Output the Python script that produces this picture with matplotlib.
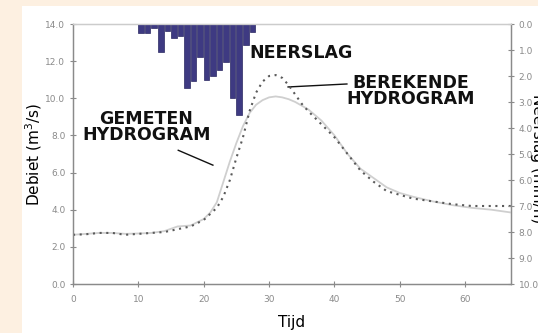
import matplotlib.pyplot as plt
import matplotlib.patches as mpatches
import numpy as np

# neerslag (mm/h), one bar per time step
rain_t = [10, 11, 12, 13, 14, 15, 16, 17, 18, 19, 20, 21, 22, 23, 24, 25, 26, 27]
rain_mm = [0.35, 0.35, 0.15, 1.08, 0.27, 0.54, 0.46, 2.46, 2.2, 1.27,
           2.15, 2.0, 1.77, 1.46, 2.85, 3.5, 0.8, 0.31]

# gemeten hydrogram
meas_t = [0, 2, 4, 6, 8, 10, 12, 14, 16, 18, 20, 21, 22, 23, 24, 25, 26, 27, 28, 29,
          30, 31, 32, 33, 34, 36, 38, 40, 42, 44, 46, 48, 50, 52, 55, 58, 61, 64, 67]
meas_q = [2.65, 2.7, 2.75, 2.75, 2.7, 2.72, 2.75, 2.85, 3.1, 3.15, 3.5, 3.85, 4.4, 5.5,
          6.6, 7.6, 8.5, 9.2, 9.65, 9.9, 10.05, 10.1, 10.05, 9.95, 9.8, 9.4, 8.8, 8.0,
          7.0, 6.2, 5.7, 5.2, 4.9, 4.7, 4.45, 4.25, 4.1, 4.0, 3.85]

# berekende hydrogram
calc_t = [0, 2, 4, 6, 8, 10, 12, 14, 16, 18, 20, 22, 23, 24, 25, 26, 27, 28, 29, 30,
          31, 32, 33, 34, 35, 36, 38, 40, 42, 44, 46, 48, 50, 52, 55, 58, 61, 64, 67]
calc_q = [2.65, 2.68, 2.75, 2.75, 2.65, 2.7, 2.75, 2.8, 2.95, 3.1, 3.45, 4.1, 4.7, 5.6,
          6.8, 7.9, 9.3, 10.3, 10.9, 11.2, 11.25, 11.1, 10.7, 10.2, 9.7, 9.3, 8.6, 7.9,
          7.0, 6.1, 5.5, 5.0, 4.8, 4.6, 4.45, 4.3, 4.2, 4.2, 4.2]

fig = plt.figure(figsize=(5.38, 3.33), dpi=100, facecolor='#fdf0e1')
fig.patches.append(mpatches.Rectangle((22 / 538, 0), 1, 1 - 6 / 333,
                                      transform=fig.transFigure, facecolor='white',
                                      edgecolor='none', zorder=-5))

ax = fig.add_axes([73 / 538, 49 / 333, 438 / 538, 260 / 333])
ax.set_facecolor('white')
ax.plot(meas_t, meas_q, color='#cfcfcf', lw=1.3, zorder=3)
ax.plot(calc_t, calc_q, color='#5a5a5a', lw=1.5, ls=(0, (1, 2.2)), zorder=4)
ax.set_xlim(0, 67)
ax.set_ylim(0, 14)
ax.set_xticks(np.arange(0, 61, 10))
ax.set_yticks(np.arange(0, 14.1, 2))
ax.set_yticklabels(['%.1f' % v for v in np.arange(0, 14.1, 2)])

ax2 = ax.twinx()
ax2.bar(rain_t, rain_mm, width=0.85, align='edge', color='#3e3a82',
        edgecolor='#2b2862', linewidth=0.5, zorder=2)
ax2.set_ylim(10, 0)
ax2.set_yticks(np.arange(0, 10.1, 1))
ax2.set_yticklabels(['%.1f' % v for v in np.arange(0, 10.1, 1)])

for a in (ax, ax2):
    for s in a.spines.values():
        s.set_color('#8a8a8a')
        s.set_linewidth(0.9)
    a.spines['top'].set_color('#cccccc')
    a.tick_params(colors='#8a8a8a', labelcolor='#8a8a8a', labelsize=6.5,
                  direction='inout', length=4, width=0.8)
ax.tick_params(axis='x', pad=6)

ax.set_xlabel('Tijd', fontsize=11, labelpad=8)
ax.set_ylabel('Debiet (m$^3$/s)', fontsize=11, labelpad=1)
fig.text(1.0, 0.523, 'Neerslag (mm/h)', rotation=270, fontsize=11,
         ha='center', va='center')

bold = dict(fontsize=12.5, fontweight='bold', color='#111111', ha='center',
            va='center', linespacing=0.9)
ax.text(34.9, 12.44, 'NEERSLAG', **bold)
ax.text(51.6, 10.39, 'BEREKENDE\nHYDROGRAM', **bold)
ax.text(11.2, 8.45, 'GEMETEN\nHYDROGRAM', **bold)
ax.plot([32.9, 41.9], [10.61, 10.77], color='#111111', lw=1)
ax.plot([16.1, 21.4], [7.2, 6.4], color='#111111', lw=1)

fig.savefig('out.png', dpi=100, facecolor=fig.get_facecolor())
